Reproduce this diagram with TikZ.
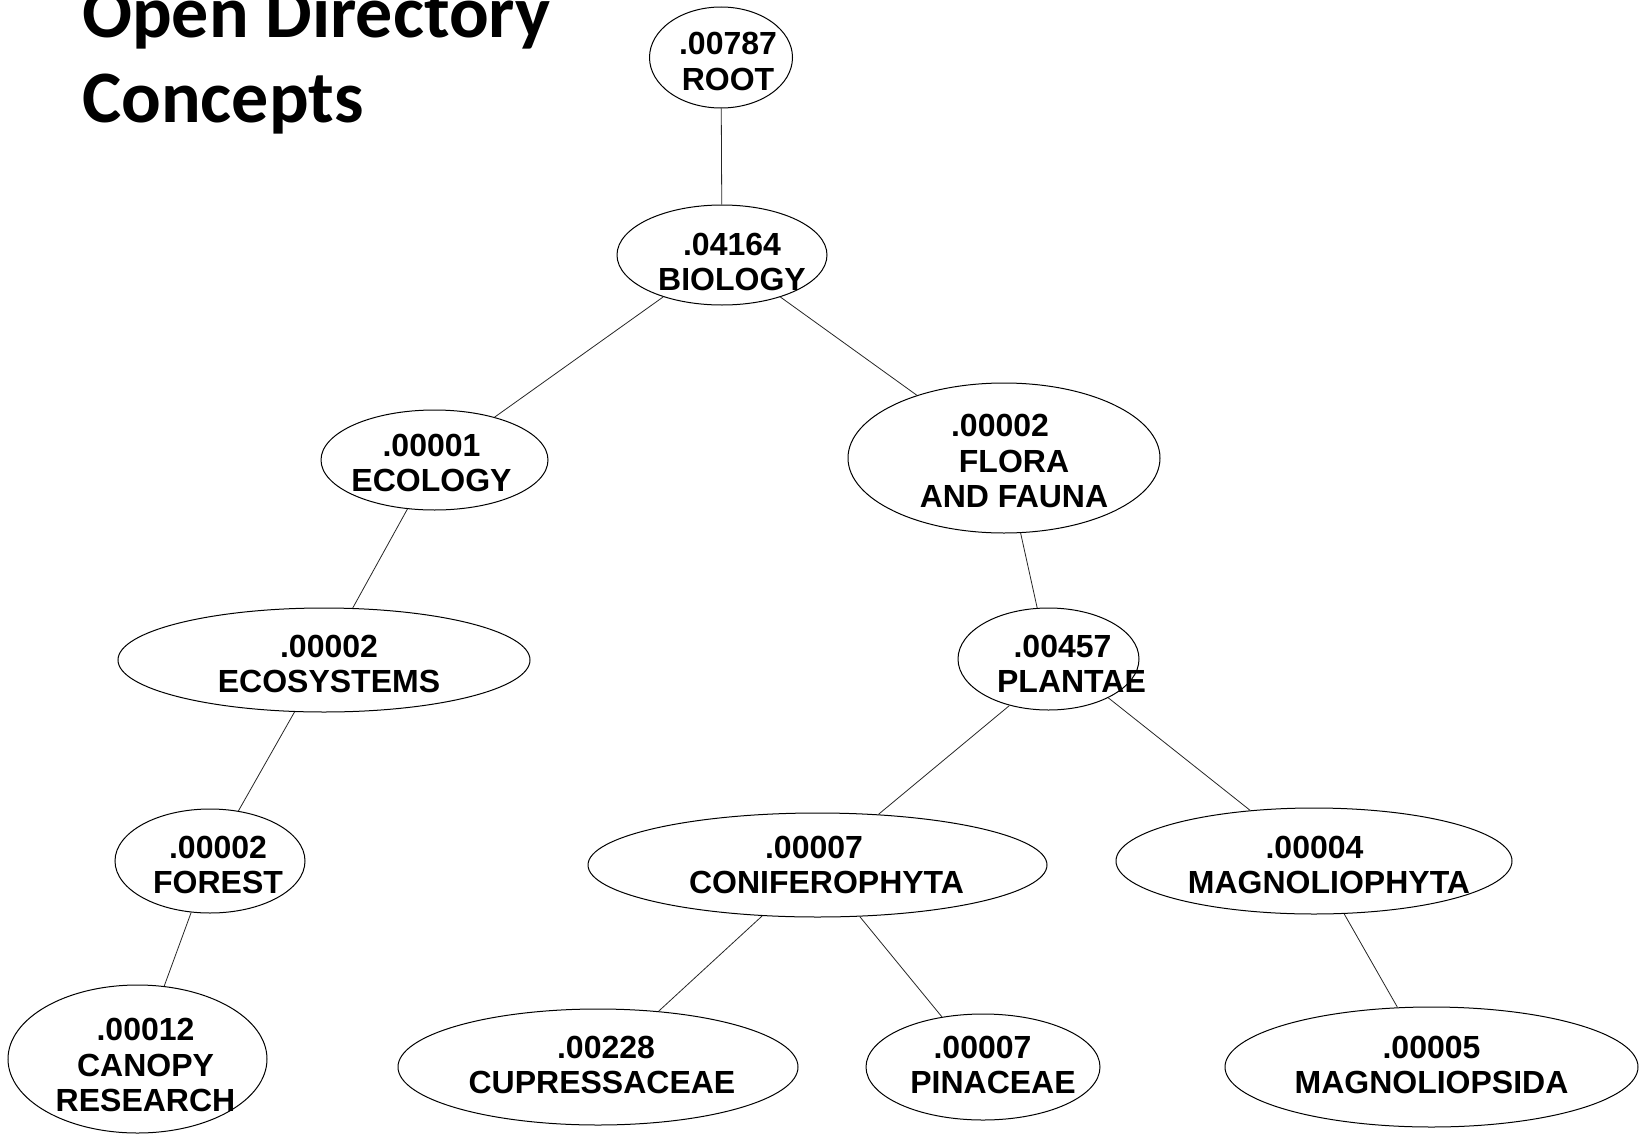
\documentclass[tikz,border=0pt]{standalone}
\usepackage{fontspec}
\setmainfont{Liberation Sans}
\newfontfamily\titlefont{Carlito}
\usetikzlibrary{shapes.geometric}

\tikzset{
  concept/.style={ellipse, draw=black, line width=1pt, inner sep=0pt},
  lbl/.style={align=center, inner sep=0pt,
    font=\fontsize{32}{35.5}\selectfont\bfseries},
  link/.style={draw=black!85, line width=0.8pt},
  heading/.style={anchor=base west, inner sep=0pt,
    font=\titlefont\bfseries\fontsize{74}{85}\selectfont}
}

\begin{document}
\begin{tikzpicture}[x=1pt, y=-1pt]
  \useasboundingbox (0,0) rectangle (1639,1135);

  % heading
  \node[heading] (title1) at (82,37) {Open Directory};
  \node[heading] (title2) at (82,122) {Concepts};

  % concept ellipses
  \node[concept, minimum width=143, minimum height=101,
        label={[lbl, xshift=7, yshift=-4]center:{.00787\\ROOT}}] (root) at (721,57.5) {};
  \node[concept, minimum width=210, minimum height=100,
        label={[lbl, xshift=10, yshift=-7]center:{.04164\\BIOLOGY}}] (bio) at (722,255) {};
  \node[concept, minimum width=227, minimum height=100,
        label={[lbl, xshift=-3, yshift=-3]center:{.00001\\ECOLOGY}}] (eco) at (434.5,460) {};
  \node[concept, minimum width=312, minimum height=150,
        label={[lbl, xshift=10, yshift=-3]center:{.00002\hspace*{28pt}\\FLORA\\AND FAUNA}}] (flora) at (1004,458) {};
  \node[concept, minimum width=412, minimum height=104,
        label={[lbl, xshift=5, yshift=-4]center:{.00002\\ECOSYSTEMS}}] (ecosys) at (324,660) {};
  \node[concept, minimum width=181, minimum height=102,
        label={[lbl, xshift=23, yshift=-5]center:{.00457\hspace*{18pt}\\PLANTAE}}] (plantae) at (1048.5,659) {};
  \node[concept, minimum width=190, minimum height=104,
        label={[lbl, xshift=8, yshift=-4]center:{.00002\\FOREST}}] (forest) at (210,861) {};
  \node[concept, minimum width=459, minimum height=104,
        label={[lbl, xshift=9]center:{.00007\hspace*{25pt}\\CONIFEROPHYTA}}] (conif) at (817.5,865) {};
  \node[concept, minimum width=396, minimum height=106,
        label={[lbl, xshift=15, yshift=-4]center:{.00004\hspace*{29pt}\\MAGNOLIOPHYTA}}] (magphyta) at (1314,861) {};
  \node[concept, minimum width=259, minimum height=148,
        label={[lbl, xshift=8, yshift=-6]center:{.00012\\CANOPY\\RESEARCH}}] (canopy) at (137.5,1059) {};
  \node[concept, minimum width=400, minimum height=116,
        label={[lbl, xshift=4, yshift=2]center:{\hspace*{8pt}.00228\\CUPRESSACEAE}}] (cupress) at (598,1067) {};
  \node[concept, minimum width=234, minimum height=106,
        label={[lbl, xshift=10, yshift=2]center:{.00007\hspace*{21pt}\\PINACEAE}}] (pinac) at (983,1067) {};
  \node[concept, minimum width=413, minimum height=120,
        label={[lbl, yshift=2]center:{.00005\\MAGNOLIOPSIDA}}] (magpsida) at (1431.5,1067) {};

  % tree edges
  \draw[link] (root) -- (bio);
  \draw[link] (bio) -- (eco);
  \draw[link] (bio) -- (flora);
  \draw[link] (eco) -- (ecosys);
  \draw[link] (ecosys) -- (forest);
  \draw[link] (forest) -- (canopy);
  \draw[link] (flora) -- (plantae);
  \draw[link] (plantae.230) -- (conif);
  \draw[link] (plantae.327) -- (magphyta);
  \draw[link] (conif) -- (cupress);
  \draw[link] (conif) -- (pinac);
  \draw[link] (magphyta) -- (magpsida);
\end{tikzpicture}
\end{document}
